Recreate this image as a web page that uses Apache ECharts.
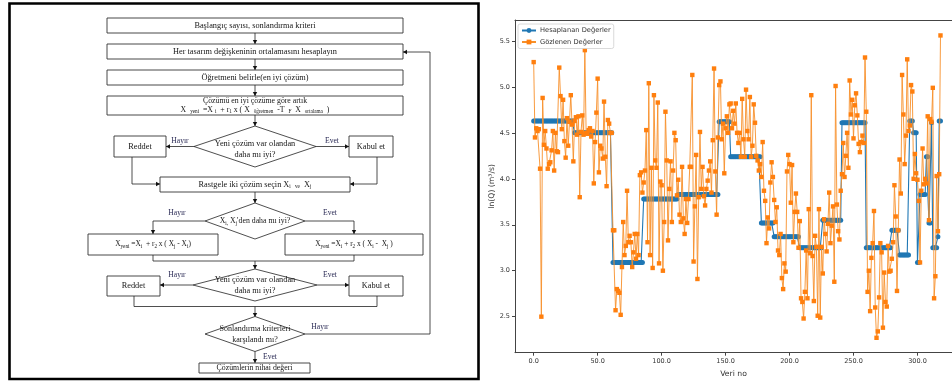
<!DOCTYPE html>
<html>
<head>
<meta charset="utf-8">
<script src="https://cdn.jsdelivr.net/npm/echarts@6/dist/echarts.min.js"></script>
<style>
  html, body { margin: 0; padding: 0; background: #fff; }
  #chart { width: 952px; height: 383px; }
</style>
</head>
<body>
<div id="chart"></div>
<script>
// observed ln(Q), one value per record (0..318)
const observed = [
  5.27,4.45,4.55,4.52,4.54,4.11,2.50,4.88,4.37,4.52,
  4.33,4.11,4.16,4.18,4.31,4.52,4.09,4.50,4.30,4.29,
  5.21,4.90,4.54,4.86,4.41,4.23,4.66,4.36,4.62,4.91,
  4.59,4.19,4.63,4.67,4.48,4.68,3.80,4.51,4.69,4.48,
  5.40,4.50,4.49,4.53,4.55,4.46,4.52,3.95,4.40,4.72,
  5.09,4.07,4.36,4.33,4.22,4.84,4.24,3.92,4.64,4.60,
  4.50,4.50,3.44,3.44,2.57,2.80,2.78,2.76,2.52,3.04,
  3.53,3.17,3.27,3.87,3.31,3.38,3.31,3.04,3.20,3.40,
  3.13,3.40,3.17,4.04,4.07,3.85,3.96,4.09,4.53,3.31,
  5.04,3.17,4.12,3.03,4.91,4.20,4.12,4.83,3.08,3.97,
  3.93,3.00,3.53,4.73,4.20,3.33,3.89,4.19,3.53,4.09,
  4.50,4.42,3.82,3.99,3.61,3.53,4.13,3.57,3.40,3.78,
  3.52,3.78,4.13,4.13,5.13,3.10,3.70,4.26,2.91,3.80,
  4.51,3.89,4.13,3.81,3.71,3.89,3.98,4.09,4.19,3.85,
  4.42,5.20,4.08,3.61,4.45,5.02,5.06,4.43,4.60,4.06,
  4.55,4.68,4.50,4.81,4.82,4.55,4.74,4.60,4.82,4.50,
  4.39,4.50,4.24,4.87,4.43,4.24,4.97,4.52,4.43,4.89,
  4.24,4.36,4.81,4.61,4.25,4.20,4.09,4.16,4.02,4.40,
  3.87,3.76,3.30,3.58,3.46,3.96,4.18,4.02,3.77,3.53,
  3.69,3.22,3.17,3.40,2.92,2.80,3.08,2.99,4.08,4.26,
  4.16,3.74,4.15,3.31,3.64,3.84,3.64,3.25,3.54,2.70,
  2.66,2.48,2.77,3.22,2.70,3.67,3.19,4.91,3.16,2.67,
  3.38,3.26,2.51,3.67,2.49,3.26,2.97,3.56,3.40,3.21,
  3.51,3.85,3.30,3.49,3.70,2.88,5.01,3.72,3.43,3.34,
  3.87,4.05,4.39,4.02,4.25,4.50,4.12,5.07,4.70,4.86,
  4.44,4.80,4.93,4.69,4.38,4.29,4.40,4.47,4.39,5.32,
  4.73,2.77,3.00,2.56,3.14,3.30,3.65,2.60,2.27,2.34,
  2.71,3.30,3.20,2.38,2.98,2.66,2.61,3.27,2.99,3.00,
  3.13,3.31,3.93,3.59,2.78,3.44,4.21,3.84,5.13,4.70,
  4.16,4.47,5.30,4.52,4.58,5.02,4.95,4.00,4.27,4.06,
  3.99,3.76,3.09,3.87,4.33,3.94,4.00,3.95,4.68,3.55,
  4.65,4.62,4.99,2.70,2.94,4.03,3.43,4.05,5.56
];

// computed values come in constant runs: level and how many records it holds
const calcLevels = [4.63,4.50,3.09,3.78,3.83,4.62,4.24,3.52,3.37,3.25,3.55,4.61,3.25,3.44,3.17,4.63,4.50,3.09,3.83,4.24,3.52,4.61,3.25,3.37,4.63];
const calcRuns   = [32,  30,  24,  27,  32,  9,   24,  10,  20,  18,  15,  19,  20,  6,   8,   3,   3,   2,   5,   2,   2,   1,   4,   1,   2];

const xTicks = [0, 50, 100, 150, 200, 250, 300];
const yTicks = [2.5, 3.0, 3.5, 4.0, 4.5, 5.0, 5.5];
const seriesNames = ['Hesaplanan Değerler', 'Gözlenen Değerler'];

// flowchart texts
const stepTexts = [
  'Başlangıç sayısı, sonlandırma kriteri',
  'Her tasarım değişkeninin ortalamasını hesaplayın',
  'Öğretmeni belirle(en iyi çözüm)',
  'Çözümlerin nihai değeri'
];

const calculated = [];
calcLevels.forEach((lv, i) => {
  for (let k = 0; k < calcRuns[i]; k++) calculated.push(lv);
});
const calcData = calculated.map((v, i) => [i, v]);
const obsData = observed.map((v, i) => [i, v]);

// ---- flowchart helpers ----
const INK = '#151515';
const LBL = '#2a2a55';
const SERIF = '"Liberation Serif", "DejaVu Serif", serif';
const FS = 8.3;
const rich = {
  s: { fontSize: 5.2, fontFamily: SERIF, fill: INK, padding: [5, 0, 0, 0] }
};
const g = [];

function box(x, y, w, h, text, size) {
  g.push({ type: 'rect', shape: { x, y, width: w, height: h },
    style: { fill: '#fff', stroke: '#333', lineWidth: 0.9 } });
  if (text) label(x + w / 2, y + h / 2, text, INK, size || FS);
}
function diamond(cx, cy, hw, hh, text, size, dy) {
  g.push({ type: 'polygon',
    shape: { points: [[cx, cy - hh], [cx + hw, cy], [cx, cy + hh], [cx - hw, cy]] },
    style: { fill: '#fff', stroke: '#222', lineWidth: 0.8 } });
  label(cx, cy + (dy || 0), text, INK, size || FS, 11);
}
function label(x, y, text, color, size, lh) {
  g.push({ type: 'text', x, y, z: 10,
    style: { text, fill: color, fontSize: size, fontFamily: SERIF,
      align: 'center', verticalAlign: 'middle',
      textAlign: 'center', textVerticalAlign: 'middle',
      lineHeight: lh || size + 2, rich } });
}
function line(pts, arrow) {
  g.push({ type: 'polyline', shape: { points: pts },
    style: { stroke: '#222', lineWidth: 0.8, fill: null } });
  if (arrow) {
    const a = pts[pts.length - 2], b = pts[pts.length - 1];
    const dx = Math.sign(b[0] - a[0]), dy = Math.sign(b[1] - a[1]);
    const L = 4, W = 2.2;
    g.push({ type: 'polygon', shape: { points: [
      [b[0], b[1]],
      [b[0] - dx * L - dy * W, b[1] - dy * L - dx * W],
      [b[0] - dx * L + dy * W, b[1] - dy * L + dx * W]] },
      style: { fill: '#111' } });
  }
}

// frame
g.push({ type: 'rect', shape: { x: 9.5, y: 3.5, width: 469, height: 375.5 },
  style: { fill: null, stroke: '#000', lineWidth: 2.6 } });

box(107, 18, 296, 15, stepTexts[0]);
line([[255, 33], [255, 44]], true);
box(107, 44, 296, 15, stepTexts[1]);
line([[255, 59], [255, 70]], true);
box(107, 70, 296, 15, stepTexts[2]);
line([[255, 85], [255, 96]], true);
box(107, 96, 296, 19, '');
label(255, 100.5, 'Çözümü en iyi çözüme göre artık', INK, 7.8);
label(255, 109.5, 'X  {s|yeni}  =X {s|i}  + r{s|1} x ( X  {s|öğretmen}  -T  {s|F}  X  {s|ortalama}  )', INK, 7.8);
line([[255, 115], [255, 126]], true);

diamond(255, 146.5, 61, 20.5, 'Yeni çözüm var olandan\ndaha mı iyi?', FS, 3);
box(114, 136, 52, 21, 'Reddet');
box(349, 136, 44, 21, 'Kabul et');
line([[194, 146.5], [166, 146.5]], true);
line([[316, 146.5], [349, 146.5]], true);
label(180, 141, 'Hayır', LBL, 7.6);
label(332, 141, 'Evet', LBL, 7.6);
line([[132, 157], [132, 184], [160, 184]], true);
line([[377, 157], [377, 184], [350, 184]], true);

box(160, 177, 190, 15, 'Rastgele iki çözüm seçin X{s|i}  {s|ve}  X{s|j}');
line([[255, 192], [255, 203]], true);

diamond(255, 221, 50, 18, "X{s|i,} X{s|j}'den daha mı iyi?", 7.8);
line([[205, 221], [153, 221], [153, 234]], true);
line([[305, 221], [354, 221], [354, 234]], true);
label(177, 213, 'Hayır', LBL, 7.6);
label(330, 213, 'Evet', LBL, 7.6);
box(88, 234, 130, 21, 'X{s|yeni} =X{s|i}  + r{s|2} x ( X{s|j} - X{s|i})', 7.4);
box(285, 234, 138, 21, 'X{s|yeni} =X{s|i} + r{s|2} x ( X{s|i} -  X{s|j} )', 7.4);
line([[153, 255], [153, 261], [354, 261], [354, 255]], false);
line([[255, 261], [255, 269]], true);

diamond(255, 285, 62, 16, 'Yeni çözüm var olandan\ndaha mı iyi?');
box(107, 276, 53, 20, 'Reddet');
box(349, 276, 54, 20, 'Kabul et');
line([[193, 285], [160, 285]], true);
line([[317, 285], [349, 285]], true);
label(177, 275, 'Hayır', LBL, 7.6);
label(330, 275, 'Evet', LBL, 7.6);
line([[134, 296], [134, 306.5], [377, 306.5], [377, 296]], false);
line([[255, 306.5], [255, 317]], true);

diamond(255, 334, 50, 17.5, 'Sonlandırma kriterleri\nkarşılandı mı?', 8);
line([[255, 351.5], [255, 363]], true);
label(270, 357, 'Evet', LBL, 7.6);
box(199, 363, 111, 10, stepTexts[3], 7.8);
line([[305, 334], [430, 334], [430, 52], [403, 52]], true);
label(320, 327, 'Hayır', LBL, 7.6);

// ---- chart ----
const AX = '#444';
const chart = echarts.init(document.getElementById('chart'));
chart.setOption({
  animation: false,
  backgroundColor: '#fff',
  textStyle: { fontFamily: 'DejaVu Sans' },
  graphic: g,
  legend: {
    orient: 'vertical',
    left: 518, top: 24,
    padding: [3, 3, 3, 3],
    itemWidth: 14, itemHeight: 6, itemGap: 4.5,
    borderColor: '#d0d0d0', borderWidth: 0.8, borderRadius: 2,
    backgroundColor: 'rgba(255,255,255,0.85)',
    textStyle: { fontSize: 6.7, color: '#333', fontFamily: 'DejaVu Sans', padding: [0, 0, 0, -1] },
    data: seriesNames
  },
  grid: { left: 515, top: 20, right: 0, bottom: 30.3, containLabel: false },
  xAxis: [{
    type: 'value', min: -14.6, max: 327,
    name: 'Veri no', nameLocation: 'middle', nameGap: 14.5,
    nameTextStyle: { fontSize: 7.7, color: '#333', fontFamily: 'DejaVu Sans' },
    axisLine: { show: true, onZero: false, lineStyle: { color: AX, width: 1 } },
    axisTick: { show: true, length: 3, customValues: xTicks, lineStyle: { color: AX } },
    axisLabel: { customValues: xTicks, fontSize: 6.5, color: '#333', margin: 5,
      formatter: v => v.toFixed(1) },
    splitLine: { show: false }
  }, {
    type: 'value', position: 'top', min: -14.6, max: 327,
    axisLine: { show: true, onZero: false, lineStyle: { color: AX, width: 1 } },
    axisTick: { show: false }, axisLabel: { show: false }, splitLine: { show: false }
  }],
  yAxis: {
    type: 'value', min: 2.108, max: 5.728,
    name: 'ln(Q) (m³/s)', nameLocation: 'middle', nameGap: 17, nameRotate: 90,
    nameTextStyle: { fontSize: 7.7, color: '#333', fontFamily: 'DejaVu Sans' },
    axisLine: { show: true, onZero: false, lineStyle: { color: AX, width: 1 } },
    axisTick: { show: true, length: 3, customValues: yTicks, lineStyle: { color: AX } },
    axisLabel: { customValues: yTicks, fontSize: 6.5, color: '#333', margin: 5,
      formatter: v => v.toFixed(1) },
    splitLine: { show: false }
  },
  series: [{
    name: seriesNames[0], type: 'line', data: calcData,
    symbol: 'circle', symbolSize: 5, showAllSymbol: true,
    itemStyle: { color: '#1f77b4' },
    lineStyle: { color: '#1f77b4', width: 1.1 },
    z: 2
  }, {
    name: seriesNames[1], type: 'line', data: obsData,
    symbol: 'rect', symbolSize: 4.4, showAllSymbol: true,
    itemStyle: { color: '#ff7f0e' },
    lineStyle: { color: '#f7902a', width: 0.9 },
    z: 3
  }]
});
</script>
</body>
</html>
